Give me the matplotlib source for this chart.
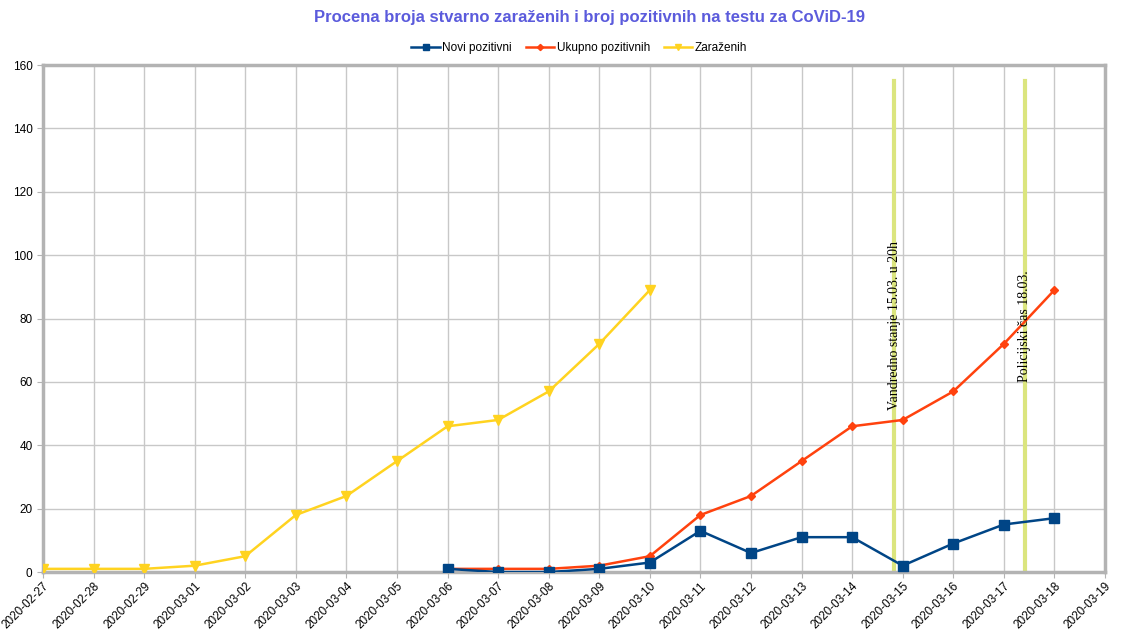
import numpy as np
import matplotlib.pyplot as plt
import matplotlib.dates as mdates

# chart data
dates = np.arange(np.datetime64('2020-02-27'), np.datetime64('2020-03-19'))
zarazenih = [1, 1, 1, 2, 5, 18, 24, 35, 46, 48, 57, 72, 89]
novi_pozitivni = [1, 0, 0, 1, 3, 13, 6, 11, 11, 2, 9, 15, 17]
ukupno_pozitivnih = [1, 1, 1, 2, 5, 18, 24, 35, 46, 48, 57, 72, 89]
event_dates = [np.datetime64('2020-03-14T20:00'), np.datetime64('2020-03-17T10:00')]
event_labels = ['Vandredno stanje 15.03. u 20h', 'Policijski čas 18.03.']
event_height = 155
event_label_bottom = [51, 60]

plt.rcParams['font.family'] = ['Liberation Sans', 'DejaVu Sans']

fig = plt.figure(figsize=(11.25, 6.38), dpi=100)
ax = fig.add_axes([0.0382, 0.1034, 0.944, 0.7946])

ax.plot(dates[8:], novi_pozitivni, color='#004586', lw=1.8, marker='s', ms=6.5,
        label='Novi pozitivni', zorder=4)
ax.plot(dates[8:], ukupno_pozitivnih, color='#ff420e', lw=1.8, marker='D', ms=4.5,
        label='Ukupno pozitivnih', zorder=3)
ax.plot(dates[:13], zarazenih, color='#ffd320', lw=1.8, marker='v', ms=7,
        label='Zaraženih', zorder=3)

for d, lab, yb in zip(event_dates, event_labels, event_label_bottom):
    ax.plot([d, d], [0, event_height], color='#dbe57e', lw=3, zorder=2)
    ax.text(d, yb, lab, rotation=90, ha='center', va='bottom',
            fontsize=10, family='Liberation Serif', zorder=5)

ax.set_xlim(np.datetime64('2020-02-27'), np.datetime64('2020-03-19'))
ax.set_ylim(0, 160)
ax.set_yticks(range(0, 161, 20))
ax.xaxis.set_major_locator(mdates.DayLocator())
ax.xaxis.set_major_formatter(mdates.DateFormatter('%Y-%m-%d'))
plt.setp(ax.get_xticklabels(), rotation=45, ha='right', rotation_mode='anchor')
ax.tick_params(axis='both', labelsize=8.5, length=4, color='#b3b3b3')
ax.tick_params(axis='x', pad=2)

ax.grid(True, color='#c8c8c8', lw=1)
ax.set_axisbelow(True)
for s in ax.spines.values():
    s.set_color('#b3b3b3')
    s.set_linewidth(2.5)

fig.suptitle('Procena broja stvarno zaraženih i broj pozitivnih na testu za CoViD-19',
             x=0.524, y=0.985, fontsize=12, fontweight='bold', color='#5b5bdc')
ax.legend(loc='lower center', bbox_to_anchor=(0.505, 1.0), ncol=3, frameon=False,
          fontsize=8.5, handlelength=2.4, columnspacing=1.2, handletextpad=0.2,
          markerscale=0.7)

fig.savefig('out.png', dpi=100)
